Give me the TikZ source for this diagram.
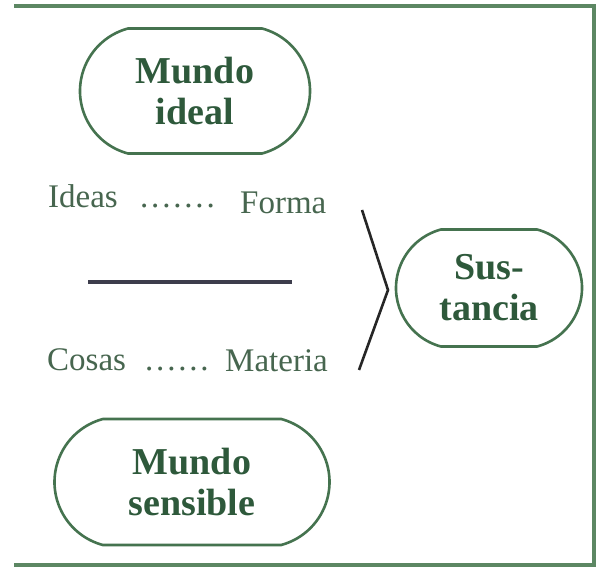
\documentclass[tikz,border=0pt]{standalone}
\usepackage{fontspec}
\setmainfont{Liberation Serif}
\usetikzlibrary{calc,shapes.misc}
\usepackage{tkz-euclide}
\definecolor{LineClr}{rgb}{0.27,0.45,0.31}
\definecolor{TextClr}{rgb}{0.18,0.35,0.23}
\definecolor{WordClr}{rgb}{0.28,0.40,0.31}
\definecolor{FrameClr}{rgb}{0.36,0.53,0.39}
\definecolor{BarClr}{rgb}{0.24,0.24,0.30}
\newcommand{\puntos}[1]{\foreach \k in {1,...,#1}{.\kern2.8pt}}

\begin{document}
\begin{tikzpicture}[x=1pt,y=1pt,
  mundo/.style={rounded rectangle,rounded rectangle arc length=150,
    draw=LineClr,line width=2.6pt,inner sep=0pt,align=center,
    text=TextClr,font=\fontsize{38}{41}\selectfont\bfseries},
  palabra/.style={anchor=base west,inner sep=0pt,text=WordClr,
    font=\fontsize{33}{36}\selectfont}]
\useasboundingbox[fill=white] (0,0) rectangle (601,570);

\tkzDefPoints{14/564/P,594/564/Q,594/5/R,14/5/S}
\tkzDefPoints{362/360/A,388/280/B,359/200/C}
\tkzDefPoints{88/288/L,292/288/M}

% marco
\draw[color=FrameClr,line width=3.2pt] (P) -- (Q) -- (R) -- (S);

% mundos
\node[mundo,minimum width=230pt,minimum height=125pt] (ideal) at (195,479) {Mundo\\ideal};
\node[mundo,minimum width=275pt,minimum height=126pt] (sensible) at (192,88) {Mundo\\sensible};
\node[mundo,minimum width=186pt,minimum height=117pt] (sust) at (489,282) {Sus-\\tancia};

% palabras
\node[palabra] (ideas) at (48,362) {Ideas};
\node[palabra] (pi) at (140,362) {\puntos{7}};
\node[palabra] (forma) at (240,356) {Forma};
\node[palabra] (cosas) at (47,200) {Cosas};
\node[palabra] (pc) at (145,200) {\puntos{6}};
\node[palabra] (materia) at (225,198) {Materia};

\draw[color=BarClr,line width=3.8pt] (L) -- (M);
\draw[color=black!85,line width=2.6pt] (A) -- (B) -- (C);

\end{tikzpicture}
\end{document}
